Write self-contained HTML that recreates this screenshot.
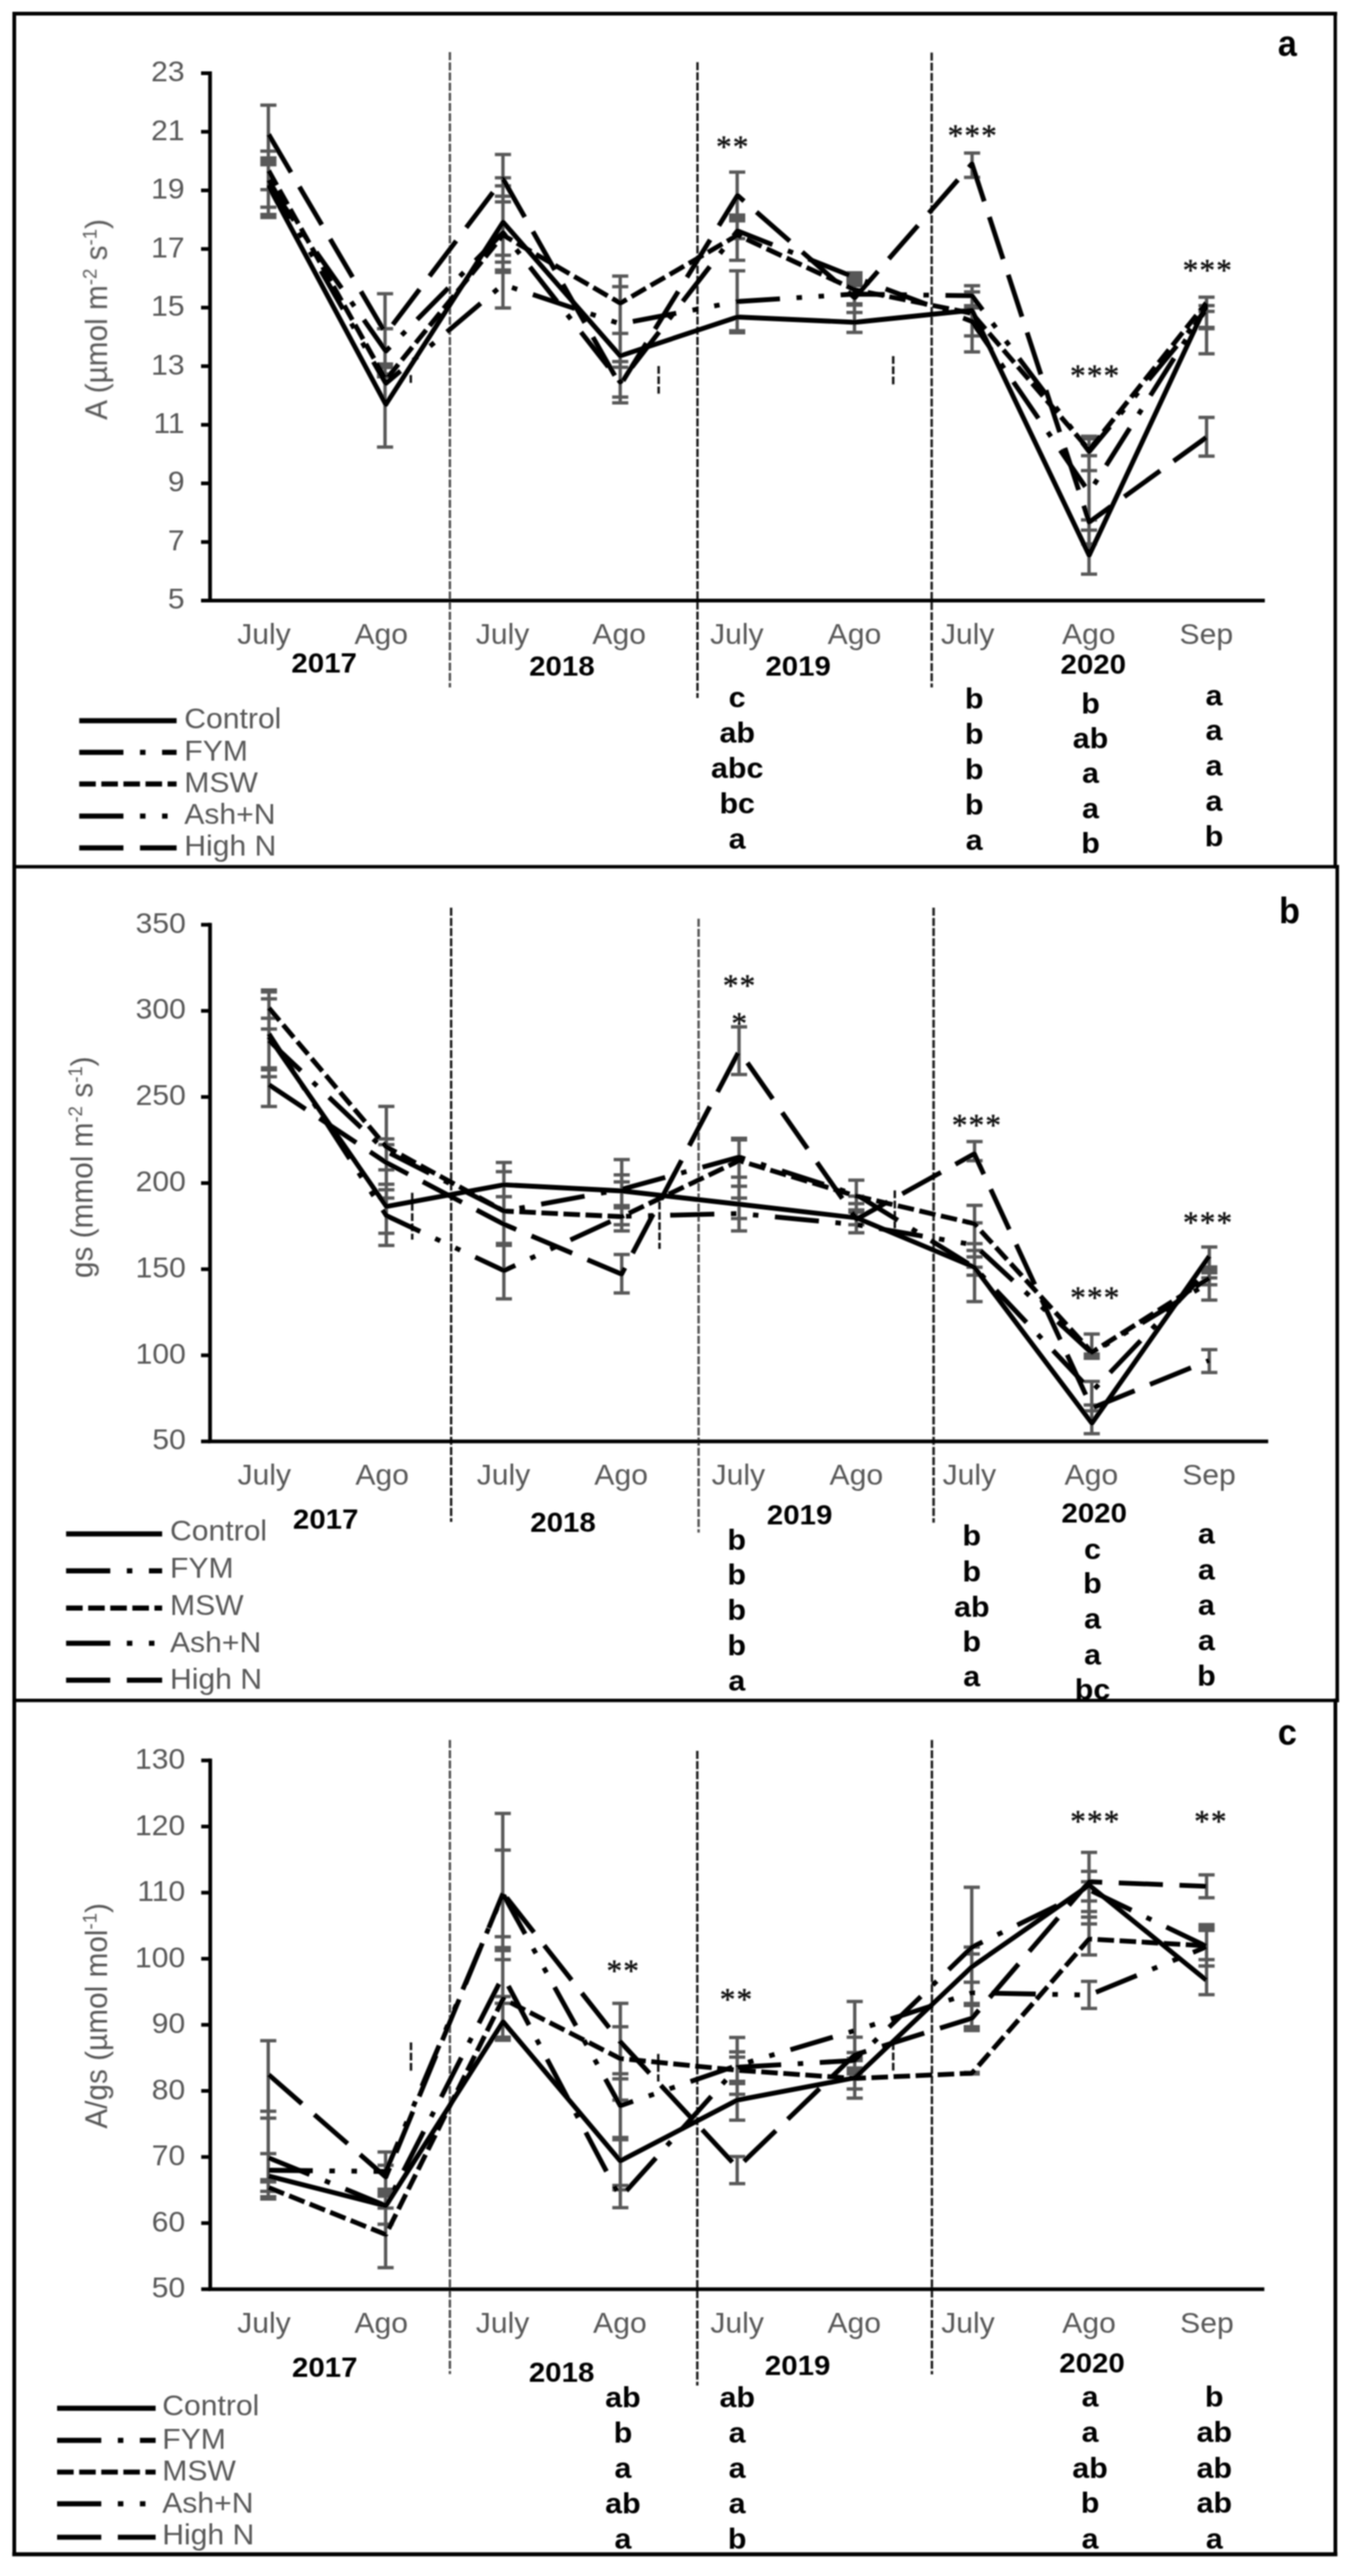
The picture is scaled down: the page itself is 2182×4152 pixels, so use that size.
<!DOCTYPE html>
<html lang="en"><head><meta charset="utf-8"><title>Gas exchange figure</title>
<style>html,body{margin:0;padding:0;background:#fff}svg{display:block}</style></head><body>
<svg width="2182" height="4152" viewBox="0 0 2182 4152">
<rect width="2182" height="4152" fill="#fff"/>
<filter id="soft" filterUnits="userSpaceOnUse" x="0" y="0" width="2182" height="4152"><feGaussianBlur stdDeviation="1.0"/></filter>
<g filter="url(#soft)">
<g>
<line x1="725" y1="84" x2="725" y2="1108" stroke="#555" stroke-width="3.9" stroke-dasharray="13 3.4"/>
<line x1="1124" y1="100.2" x2="1124" y2="1125" stroke="#1c1c1c" stroke-width="3.9" stroke-dasharray="13 3.4"/>
<line x1="1501.4" y1="84.7" x2="1501.4" y2="1108" stroke="#1c1c1c" stroke-width="3.9" stroke-dasharray="13 3.4"/>
<line x1="662" y1="604.6" x2="662" y2="621" stroke="#111" stroke-width="3.9" stroke-dasharray="12.5 4"/>
<line x1="1061.4" y1="590" x2="1061.4" y2="634.5" stroke="#111" stroke-width="3.9" stroke-dasharray="12.5 4"/>
<line x1="1439.4" y1="573.9" x2="1439.4" y2="620" stroke="#111" stroke-width="3.9" stroke-dasharray="12.5 4"/>
<path d="M338.5 115 V968 H2038.3" fill="none" stroke="#000" stroke-width="6" stroke-linecap="butt" stroke-linejoin="miter"/>
<line x1="324" y1="118" x2="338.5" y2="118" stroke="#000" stroke-width="6"/>
<text transform="translate(297.5 131.3) scale(1.055 1)" font-size="46" fill="#595959" text-anchor="end" font-weight="normal" font-family='"Liberation Sans", Arial, sans-serif' >23</text>
<line x1="324" y1="212.4" x2="338.5" y2="212.4" stroke="#000" stroke-width="6"/>
<text transform="translate(297.5 225.7) scale(1.055 1)" font-size="46" fill="#595959" text-anchor="end" font-weight="normal" font-family='"Liberation Sans", Arial, sans-serif' >21</text>
<line x1="324" y1="306.9" x2="338.5" y2="306.9" stroke="#000" stroke-width="6"/>
<text transform="translate(297.5 320.2) scale(1.055 1)" font-size="46" fill="#595959" text-anchor="end" font-weight="normal" font-family='"Liberation Sans", Arial, sans-serif' >19</text>
<line x1="324" y1="401.3" x2="338.5" y2="401.3" stroke="#000" stroke-width="6"/>
<text transform="translate(297.5 414.6) scale(1.055 1)" font-size="46" fill="#595959" text-anchor="end" font-weight="normal" font-family='"Liberation Sans", Arial, sans-serif' >17</text>
<line x1="324" y1="495.8" x2="338.5" y2="495.8" stroke="#000" stroke-width="6"/>
<text transform="translate(297.5 509.1) scale(1.055 1)" font-size="46" fill="#595959" text-anchor="end" font-weight="normal" font-family='"Liberation Sans", Arial, sans-serif' >15</text>
<line x1="324" y1="590.2" x2="338.5" y2="590.2" stroke="#000" stroke-width="6"/>
<text transform="translate(297.5 603.5) scale(1.055 1)" font-size="46" fill="#595959" text-anchor="end" font-weight="normal" font-family='"Liberation Sans", Arial, sans-serif' >13</text>
<line x1="324" y1="684.7" x2="338.5" y2="684.7" stroke="#000" stroke-width="6"/>
<text transform="translate(297.5 698) scale(1.055 1)" font-size="46" fill="#595959" text-anchor="end" font-weight="normal" font-family='"Liberation Sans", Arial, sans-serif' >11</text>
<line x1="324" y1="779.1" x2="338.5" y2="779.1" stroke="#000" stroke-width="6"/>
<text transform="translate(297.5 792.4) scale(1.055 1)" font-size="46" fill="#595959" text-anchor="end" font-weight="normal" font-family='"Liberation Sans", Arial, sans-serif' >9</text>
<line x1="324" y1="873.6" x2="338.5" y2="873.6" stroke="#000" stroke-width="6"/>
<text transform="translate(297.5 886.9) scale(1.055 1)" font-size="46" fill="#595959" text-anchor="end" font-weight="normal" font-family='"Liberation Sans", Arial, sans-serif' >7</text>
<line x1="324" y1="968" x2="338.5" y2="968" stroke="#000" stroke-width="6"/>
<text transform="translate(297.5 981.3) scale(1.055 1)" font-size="46" fill="#595959" text-anchor="end" font-weight="normal" font-family='"Liberation Sans", Arial, sans-serif' >5</text>
<text transform="translate(173 676.7) scale(1.055 1) rotate(-90)" font-size="48" fill="#595959" font-family='"Liberation Sans", Arial, sans-serif'>A (µmol m<tspan dy="-17" font-size="30">-2</tspan><tspan dy="17"> s</tspan><tspan dy="-17" font-size="30">-1</tspan><tspan dy="17">)</tspan></text>
<text transform="translate(425.4 1038) scale(1.055 1)" font-size="46" fill="#595959" text-anchor="middle" font-weight="normal" font-family='"Liberation Sans", Arial, sans-serif' >July</text>
<text transform="translate(614.4 1038) scale(1.055 1)" font-size="46" fill="#595959" text-anchor="middle" font-weight="normal" font-family='"Liberation Sans", Arial, sans-serif' >Ago</text>
<text transform="translate(810 1038) scale(1.055 1)" font-size="46" fill="#595959" text-anchor="middle" font-weight="normal" font-family='"Liberation Sans", Arial, sans-serif' >July</text>
<text transform="translate(997.7 1038) scale(1.055 1)" font-size="46" fill="#595959" text-anchor="middle" font-weight="normal" font-family='"Liberation Sans", Arial, sans-serif' >Ago</text>
<text transform="translate(1187.4 1038) scale(1.055 1)" font-size="46" fill="#595959" text-anchor="middle" font-weight="normal" font-family='"Liberation Sans", Arial, sans-serif' >July</text>
<text transform="translate(1377 1038) scale(1.055 1)" font-size="46" fill="#595959" text-anchor="middle" font-weight="normal" font-family='"Liberation Sans", Arial, sans-serif' >Ago</text>
<text transform="translate(1559.4 1038) scale(1.055 1)" font-size="46" fill="#595959" text-anchor="middle" font-weight="normal" font-family='"Liberation Sans", Arial, sans-serif' >July</text>
<text transform="translate(1754.6 1038) scale(1.055 1)" font-size="46" fill="#595959" text-anchor="middle" font-weight="normal" font-family='"Liberation Sans", Arial, sans-serif' >Ago</text>
<text transform="translate(1944 1038) scale(1.055 1)" font-size="46" fill="#595959" text-anchor="middle" font-weight="normal" font-family='"Liberation Sans", Arial, sans-serif' >Sep</text>
<text transform="translate(522.4 1083.6) scale(1.055 1)" font-size="45" fill="#000" text-anchor="middle" font-weight="bold" font-family='"Liberation Sans", Arial, sans-serif' >2017</text>
<text transform="translate(905.5 1088.5) scale(1.055 1)" font-size="45" fill="#000" text-anchor="middle" font-weight="bold" font-family='"Liberation Sans", Arial, sans-serif' >2018</text>
<text transform="translate(1286.2 1088.7) scale(1.055 1)" font-size="45" fill="#000" text-anchor="middle" font-weight="bold" font-family='"Liberation Sans", Arial, sans-serif' >2019</text>
<text transform="translate(1761.8 1086) scale(1.055 1)" font-size="45" fill="#000" text-anchor="middle" font-weight="bold" font-family='"Liberation Sans", Arial, sans-serif' >2020</text>
<line x1="432.5" y1="169.5" x2="432.5" y2="350.5" stroke="#595959" stroke-width="5.4"/>
<rect x="419.5" y="166.8" width="26" height="5.4" fill="#595959"/>
<rect x="419.5" y="240.9" width="26" height="5.4" fill="#595959"/>
<rect x="419.5" y="251.9" width="26" height="16.3" fill="#595959"/>
<rect x="419.5" y="303" width="26" height="5.4" fill="#595959"/>
<rect x="419.5" y="331.3" width="26" height="5.4" fill="#595959"/>
<rect x="419.5" y="343" width="26" height="10.3" fill="#595959"/>
<line x1="620.5" y1="473.4" x2="620.5" y2="720.6" stroke="#595959" stroke-width="5.4"/>
<rect x="607.5" y="470.7" width="26" height="5.4" fill="#595959"/>
<rect x="607.5" y="527.1" width="26" height="5.4" fill="#595959"/>
<rect x="607.5" y="584" width="26" height="11" fill="#595959"/>
<rect x="607.5" y="600" width="26" height="10" fill="#595959"/>
<rect x="607.5" y="717.9" width="26" height="5.4" fill="#595959"/>
<line x1="810.5" y1="249" x2="810.5" y2="496.4" stroke="#595959" stroke-width="5.4"/>
<rect x="797.5" y="246.3" width="26" height="5.4" fill="#595959"/>
<rect x="797.5" y="283.9" width="26" height="5.4" fill="#595959"/>
<rect x="797.5" y="296.9" width="26" height="5.4" fill="#595959"/>
<rect x="797.5" y="313.5" width="26" height="5.4" fill="#595959"/>
<rect x="797.5" y="322.7" width="26" height="5.4" fill="#595959"/>
<rect x="797.5" y="408.7" width="26" height="5.4" fill="#595959"/>
<rect x="797.5" y="419.8" width="26" height="5.4" fill="#595959"/>
<rect x="797.5" y="432.5" width="26" height="9.2" fill="#595959"/>
<rect x="797.5" y="493.7" width="26" height="5.4" fill="#595959"/>
<line x1="999.5" y1="445" x2="999.5" y2="649.3" stroke="#595959" stroke-width="5.4"/>
<rect x="986.5" y="442.3" width="26" height="5.4" fill="#595959"/>
<rect x="986.5" y="459.3" width="26" height="5.4" fill="#595959"/>
<rect x="986.5" y="534.7" width="26" height="5.4" fill="#595959"/>
<rect x="986.5" y="580.1" width="26" height="5.4" fill="#595959"/>
<rect x="986.5" y="589.3" width="26" height="5.4" fill="#595959"/>
<rect x="986.5" y="637.3" width="26" height="5.4" fill="#595959"/>
<rect x="986.5" y="646.6" width="26" height="5.4" fill="#595959"/>
<line x1="1188" y1="277.4" x2="1188" y2="419.6" stroke="#595959" stroke-width="5.4"/>
<line x1="1188" y1="436.5" x2="1188" y2="534.8" stroke="#595959" stroke-width="5.4"/>
<rect x="1175" y="274.7" width="26" height="5.4" fill="#595959"/>
<rect x="1175" y="343.9" width="26" height="14.7" fill="#595959"/>
<rect x="1175" y="381.8" width="26" height="5.4" fill="#595959"/>
<rect x="1175" y="416.9" width="26" height="5.4" fill="#595959"/>
<rect x="1175" y="433.8" width="26" height="5.4" fill="#595959"/>
<rect x="1175" y="530.5" width="26" height="8.5" fill="#595959"/>
<line x1="1377" y1="437" x2="1377" y2="535.8" stroke="#595959" stroke-width="5.4"/>
<rect x="1364" y="437" width="26" height="26" fill="#595959"/>
<rect x="1364" y="487" width="26" height="7.5" fill="#595959"/>
<rect x="1364" y="501" width="26" height="5.4" fill="#595959"/>
<rect x="1364" y="533.1" width="26" height="5.4" fill="#595959"/>
<line x1="1566.5" y1="246.7" x2="1566.5" y2="285.9" stroke="#595959" stroke-width="5.4"/>
<line x1="1566.5" y1="460.5" x2="1566.5" y2="567.2" stroke="#595959" stroke-width="5.4"/>
<rect x="1553.5" y="244" width="26" height="5.4" fill="#595959"/>
<rect x="1553.5" y="283.2" width="26" height="5.4" fill="#595959"/>
<rect x="1553.5" y="457.8" width="26" height="5.4" fill="#595959"/>
<rect x="1553.5" y="467.8" width="26" height="5.4" fill="#595959"/>
<rect x="1553.5" y="490" width="26" height="9" fill="#595959"/>
<rect x="1553.5" y="538.7" width="26" height="5.4" fill="#595959"/>
<rect x="1553.5" y="564.5" width="26" height="5.4" fill="#595959"/>
<line x1="1755" y1="705" x2="1755" y2="925.4" stroke="#595959" stroke-width="5.4"/>
<rect x="1742" y="700.5" width="26" height="9.5" fill="#595959"/>
<rect x="1742" y="731.8" width="26" height="5.4" fill="#595959"/>
<rect x="1742" y="755.8" width="26" height="5.4" fill="#595959"/>
<rect x="1742" y="835.3" width="26" height="5.4" fill="#595959"/>
<rect x="1742" y="851.8" width="26" height="5.4" fill="#595959"/>
<rect x="1742" y="873.9" width="26" height="5.4" fill="#595959"/>
<rect x="1742" y="922.7" width="26" height="5.4" fill="#595959"/>
<line x1="1944.4" y1="479" x2="1944.4" y2="570.2" stroke="#595959" stroke-width="5.4"/>
<line x1="1944.4" y1="672.8" x2="1944.4" y2="735.2" stroke="#595959" stroke-width="5.4"/>
<rect x="1931.4" y="476.3" width="26" height="5.4" fill="#595959"/>
<rect x="1931.4" y="489.9" width="26" height="5.4" fill="#595959"/>
<rect x="1931.4" y="499.2" width="26" height="5.4" fill="#595959"/>
<rect x="1931.4" y="525" width="26" height="7.5" fill="#595959"/>
<rect x="1931.4" y="567.5" width="26" height="5.4" fill="#595959"/>
<rect x="1931.4" y="670.1" width="26" height="5.4" fill="#595959"/>
<rect x="1931.4" y="732.5" width="26" height="5.4" fill="#595959"/>
<polyline points="432.9,275 621.8,612 810.7,379 999.6,488.6 1188.5,379 1377.4,467 1566.3,505 1755.2,725 1944.1,488" fill="none" stroke="#000" stroke-width="7.8" stroke-linecap="butt" stroke-linejoin="round" stroke-dasharray="26.7 8.9" stroke-dashoffset="0"/>
<polyline points="432.9,297 621.8,566 810.7,375 999.6,616 1188.5,372 1377.4,447 1566.3,518 1755.2,793.6 1944.1,495" fill="none" stroke="#000" stroke-width="7.8" stroke-linecap="butt" stroke-linejoin="round" stroke-dasharray="71.2 26.7 8.9 26.7" stroke-dashoffset="0"/>
<polyline points="432.9,290 621.8,618 810.7,458.6 999.6,522 1188.5,486 1377.4,474 1566.3,476.7 1755.2,728 1944.1,500" fill="none" stroke="#000" stroke-width="7.8" stroke-linecap="butt" stroke-linejoin="round" stroke-dasharray="71.2 26.7 8.9 26.7 8.9 26.7" stroke-dashoffset="0"/>
<polyline points="432.9,216.5 621.8,538 810.7,288.5 999.6,621 1188.5,315 1377.4,480 1566.3,264 1755.2,841.6 1944.1,705" fill="none" stroke="#000" stroke-width="7.8" stroke-linecap="butt" stroke-linejoin="round" stroke-dasharray="71.2 26.7" stroke-dashoffset="0"/>
<polyline points="432.9,300 621.8,652 810.7,358 999.6,573.6 1188.5,511 1377.4,519.5 1566.3,500 1755.2,895 1944.1,491" fill="none" stroke="#000" stroke-width="7.8" stroke-linecap="butt" stroke-linejoin="round"/>
<text transform="translate(1166.5 253.4) scale(1.0 1)" font-size="50" fill="#111" text-anchor="middle" font-weight="normal" font-family='"Liberation Serif", "DejaVu Serif", serif' stroke="#111" stroke-width="0.7">*</text>
<text transform="translate(1193.5 253.4) scale(1.0 1)" font-size="50" fill="#111" text-anchor="middle" font-weight="normal" font-family='"Liberation Serif", "DejaVu Serif", serif' stroke="#111" stroke-width="0.7">*</text>
<text transform="translate(1539.7 235) scale(1.0 1)" font-size="50" fill="#111" text-anchor="middle" font-weight="normal" font-family='"Liberation Serif", "DejaVu Serif", serif' stroke="#111" stroke-width="0.7">*</text>
<text transform="translate(1566.7 235) scale(1.0 1)" font-size="50" fill="#111" text-anchor="middle" font-weight="normal" font-family='"Liberation Serif", "DejaVu Serif", serif' stroke="#111" stroke-width="0.7">*</text>
<text transform="translate(1593.7 235) scale(1.0 1)" font-size="50" fill="#111" text-anchor="middle" font-weight="normal" font-family='"Liberation Serif", "DejaVu Serif", serif' stroke="#111" stroke-width="0.7">*</text>
<text transform="translate(1737 621.9) scale(1.0 1)" font-size="50" fill="#111" text-anchor="middle" font-weight="normal" font-family='"Liberation Serif", "DejaVu Serif", serif' stroke="#111" stroke-width="0.7">*</text>
<text transform="translate(1764 621.9) scale(1.0 1)" font-size="50" fill="#111" text-anchor="middle" font-weight="normal" font-family='"Liberation Serif", "DejaVu Serif", serif' stroke="#111" stroke-width="0.7">*</text>
<text transform="translate(1791 621.9) scale(1.0 1)" font-size="50" fill="#111" text-anchor="middle" font-weight="normal" font-family='"Liberation Serif", "DejaVu Serif", serif' stroke="#111" stroke-width="0.7">*</text>
<text transform="translate(1918.6 452) scale(1.0 1)" font-size="50" fill="#111" text-anchor="middle" font-weight="normal" font-family='"Liberation Serif", "DejaVu Serif", serif' stroke="#111" stroke-width="0.7">*</text>
<text transform="translate(1945.6 452) scale(1.0 1)" font-size="50" fill="#111" text-anchor="middle" font-weight="normal" font-family='"Liberation Serif", "DejaVu Serif", serif' stroke="#111" stroke-width="0.7">*</text>
<text transform="translate(1972.6 452) scale(1.0 1)" font-size="50" fill="#111" text-anchor="middle" font-weight="normal" font-family='"Liberation Serif", "DejaVu Serif", serif' stroke="#111" stroke-width="0.7">*</text>
<line x1="127.7" y1="1161.7" x2="284.6" y2="1161.7" stroke="#000" stroke-width="8.2" stroke-linecap="butt"/>
<text transform="translate(297 1173.9) scale(1.055 1)" font-size="46" fill="#595959" text-anchor="start" font-weight="normal" font-family='"Liberation Sans", Arial, sans-serif' >Control</text>
<line x1="127.7" y1="1212.6" x2="284.6" y2="1212.6" stroke="#000" stroke-width="8.2" stroke-linecap="butt" stroke-dasharray="71.2 26.7 8.9 26.7"/>
<text transform="translate(297 1225.6) scale(1.055 1)" font-size="46" fill="#595959" text-anchor="start" font-weight="normal" font-family='"Liberation Sans", Arial, sans-serif' >FYM</text>
<line x1="127.7" y1="1263.6" x2="284.6" y2="1263.6" stroke="#000" stroke-width="8.2" stroke-linecap="butt" stroke-dasharray="26.7 8.9"/>
<text transform="translate(297 1276.5) scale(1.055 1)" font-size="46" fill="#595959" text-anchor="start" font-weight="normal" font-family='"Liberation Sans", Arial, sans-serif' >MSW</text>
<line x1="127.7" y1="1315.3" x2="284.6" y2="1315.3" stroke="#000" stroke-width="8.2" stroke-linecap="butt" stroke-dasharray="71.2 26.7 8.9 26.7 8.9 26.7"/>
<text transform="translate(297 1327.8) scale(1.055 1)" font-size="46" fill="#595959" text-anchor="start" font-weight="normal" font-family='"Liberation Sans", Arial, sans-serif' >Ash+N</text>
<line x1="127.7" y1="1366.6" x2="284.6" y2="1366.6" stroke="#000" stroke-width="8.2" stroke-linecap="butt" stroke-dasharray="71.2 26.7"/>
<text transform="translate(297 1378.8) scale(1.055 1)" font-size="46" fill="#595959" text-anchor="start" font-weight="normal" font-family='"Liberation Sans", Arial, sans-serif' >High N</text>
<text transform="translate(1188 1140.3) scale(1.055 1)" font-size="46.5" fill="#000" text-anchor="middle" font-weight="bold" font-family='"Liberation Sans", Arial, sans-serif' >c</text>
<text transform="translate(1188 1196.7) scale(1.055 1)" font-size="46.5" fill="#000" text-anchor="middle" font-weight="bold" font-family='"Liberation Sans", Arial, sans-serif' >ab</text>
<text transform="translate(1188 1253.5) scale(1.055 1)" font-size="46.5" fill="#000" text-anchor="middle" font-weight="bold" font-family='"Liberation Sans", Arial, sans-serif' >abc</text>
<text transform="translate(1188 1310.5) scale(1.055 1)" font-size="46.5" fill="#000" text-anchor="middle" font-weight="bold" font-family='"Liberation Sans", Arial, sans-serif' >bc</text>
<text transform="translate(1188 1367.8) scale(1.055 1)" font-size="46.5" fill="#000" text-anchor="middle" font-weight="bold" font-family='"Liberation Sans", Arial, sans-serif' >a</text>
<text transform="translate(1570 1142) scale(1.055 1)" font-size="46.5" fill="#000" text-anchor="middle" font-weight="bold" font-family='"Liberation Sans", Arial, sans-serif' >b</text>
<text transform="translate(1570 1198.9) scale(1.055 1)" font-size="46.5" fill="#000" text-anchor="middle" font-weight="bold" font-family='"Liberation Sans", Arial, sans-serif' >b</text>
<text transform="translate(1570 1255.7) scale(1.055 1)" font-size="46.5" fill="#000" text-anchor="middle" font-weight="bold" font-family='"Liberation Sans", Arial, sans-serif' >b</text>
<text transform="translate(1570 1312.6) scale(1.055 1)" font-size="46.5" fill="#000" text-anchor="middle" font-weight="bold" font-family='"Liberation Sans", Arial, sans-serif' >b</text>
<text transform="translate(1570 1369.5) scale(1.055 1)" font-size="46.5" fill="#000" text-anchor="middle" font-weight="bold" font-family='"Liberation Sans", Arial, sans-serif' >a</text>
<text transform="translate(1757.4 1149.7) scale(1.055 1)" font-size="46.5" fill="#000" text-anchor="middle" font-weight="bold" font-family='"Liberation Sans", Arial, sans-serif' >b</text>
<text transform="translate(1757.4 1206) scale(1.055 1)" font-size="46.5" fill="#000" text-anchor="middle" font-weight="bold" font-family='"Liberation Sans", Arial, sans-serif' >ab</text>
<text transform="translate(1757.4 1262) scale(1.055 1)" font-size="46.5" fill="#000" text-anchor="middle" font-weight="bold" font-family='"Liberation Sans", Arial, sans-serif' >a</text>
<text transform="translate(1757.4 1318.8) scale(1.055 1)" font-size="46.5" fill="#000" text-anchor="middle" font-weight="bold" font-family='"Liberation Sans", Arial, sans-serif' >a</text>
<text transform="translate(1757.4 1374.7) scale(1.055 1)" font-size="46.5" fill="#000" text-anchor="middle" font-weight="bold" font-family='"Liberation Sans", Arial, sans-serif' >b</text>
<text transform="translate(1956.5 1136.8) scale(1.055 1)" font-size="46.5" fill="#000" text-anchor="middle" font-weight="bold" font-family='"Liberation Sans", Arial, sans-serif' >a</text>
<text transform="translate(1956.5 1193.2) scale(1.055 1)" font-size="46.5" fill="#000" text-anchor="middle" font-weight="bold" font-family='"Liberation Sans", Arial, sans-serif' >a</text>
<text transform="translate(1956.5 1250) scale(1.055 1)" font-size="46.5" fill="#000" text-anchor="middle" font-weight="bold" font-family='"Liberation Sans", Arial, sans-serif' >a</text>
<text transform="translate(1956.5 1307) scale(1.055 1)" font-size="46.5" fill="#000" text-anchor="middle" font-weight="bold" font-family='"Liberation Sans", Arial, sans-serif' >a</text>
<text transform="translate(1956.5 1364.3) scale(1.055 1)" font-size="46.5" fill="#000" text-anchor="middle" font-weight="bold" font-family='"Liberation Sans", Arial, sans-serif' >b</text>
<text transform="translate(2074.7 89.5) scale(0.92 1)" font-size="60" fill="#000" text-anchor="middle" font-weight="bold" font-family='"Liberation Sans", Arial, sans-serif' >a</text>
</g>
<clipPath id="cpb"><rect x="0" y="1397" width="2182" height="1343.7"/></clipPath>
<g clip-path="url(#cpb)">
<line x1="727" y1="1463" x2="727" y2="2453" stroke="#1c1c1c" stroke-width="3.9" stroke-dasharray="13 3.4"/>
<line x1="1125.8" y1="1480.7" x2="1125.8" y2="2470.3" stroke="#555" stroke-width="3.9" stroke-dasharray="13 3.4"/>
<line x1="1504.5" y1="1463" x2="1504.5" y2="2454.3" stroke="#1c1c1c" stroke-width="3.9" stroke-dasharray="13 3.4"/>
<line x1="664.3" y1="1922.5" x2="664.3" y2="1998" stroke="#111" stroke-width="3.9" stroke-dasharray="12.5 4"/>
<line x1="1062.8" y1="1937" x2="1062.8" y2="2013" stroke="#111" stroke-width="3.9" stroke-dasharray="12.5 4"/>
<line x1="1442" y1="1918.8" x2="1442" y2="1979.7" stroke="#111" stroke-width="3.9" stroke-dasharray="12.5 4"/>
<path d="M338.5 1487.5 V2323.3 H2043.7" fill="none" stroke="#000" stroke-width="6" stroke-linecap="butt" stroke-linejoin="miter"/>
<line x1="324" y1="1490.5" x2="338.5" y2="1490.5" stroke="#000" stroke-width="6"/>
<text transform="translate(299.5 1503.5) scale(1.055 1)" font-size="46" fill="#595959" text-anchor="end" font-weight="normal" font-family='"Liberation Sans", Arial, sans-serif' >350</text>
<line x1="324" y1="1629.3" x2="338.5" y2="1629.3" stroke="#000" stroke-width="6"/>
<text transform="translate(299.5 1642.3) scale(1.055 1)" font-size="46" fill="#595959" text-anchor="end" font-weight="normal" font-family='"Liberation Sans", Arial, sans-serif' >300</text>
<line x1="324" y1="1768.1" x2="338.5" y2="1768.1" stroke="#000" stroke-width="6"/>
<text transform="translate(299.5 1781.1) scale(1.055 1)" font-size="46" fill="#595959" text-anchor="end" font-weight="normal" font-family='"Liberation Sans", Arial, sans-serif' >250</text>
<line x1="324" y1="1906.9" x2="338.5" y2="1906.9" stroke="#000" stroke-width="6"/>
<text transform="translate(299.5 1919.9) scale(1.055 1)" font-size="46" fill="#595959" text-anchor="end" font-weight="normal" font-family='"Liberation Sans", Arial, sans-serif' >200</text>
<line x1="324" y1="2045.7" x2="338.5" y2="2045.7" stroke="#000" stroke-width="6"/>
<text transform="translate(299.5 2058.7) scale(1.055 1)" font-size="46" fill="#595959" text-anchor="end" font-weight="normal" font-family='"Liberation Sans", Arial, sans-serif' >150</text>
<line x1="324" y1="2184.5" x2="338.5" y2="2184.5" stroke="#000" stroke-width="6"/>
<text transform="translate(299.5 2197.5) scale(1.055 1)" font-size="46" fill="#595959" text-anchor="end" font-weight="normal" font-family='"Liberation Sans", Arial, sans-serif' >100</text>
<line x1="324" y1="2323.3" x2="338.5" y2="2323.3" stroke="#000" stroke-width="6"/>
<text transform="translate(299.5 2336.3) scale(1.055 1)" font-size="46" fill="#595959" text-anchor="end" font-weight="normal" font-family='"Liberation Sans", Arial, sans-serif' >50</text>
<text transform="translate(149.7 2060) scale(1.055 1) rotate(-90)" font-size="48" fill="#595959" font-family='"Liberation Sans", Arial, sans-serif'>gs (mmol m<tspan dy="-17" font-size="30">-2</tspan><tspan dy="17"> s</tspan><tspan dy="-17" font-size="30">-1</tspan><tspan dy="17">)</tspan></text>
<text transform="translate(426 2393.3) scale(1.055 1)" font-size="46" fill="#595959" text-anchor="middle" font-weight="normal" font-family='"Liberation Sans", Arial, sans-serif' >July</text>
<text transform="translate(615.8 2393.3) scale(1.055 1)" font-size="46" fill="#595959" text-anchor="middle" font-weight="normal" font-family='"Liberation Sans", Arial, sans-serif' >Ago</text>
<text transform="translate(811.4 2393.3) scale(1.055 1)" font-size="46" fill="#595959" text-anchor="middle" font-weight="normal" font-family='"Liberation Sans", Arial, sans-serif' >July</text>
<text transform="translate(1001 2393.3) scale(1.055 1)" font-size="46" fill="#595959" text-anchor="middle" font-weight="normal" font-family='"Liberation Sans", Arial, sans-serif' >Ago</text>
<text transform="translate(1190 2393.3) scale(1.055 1)" font-size="46" fill="#595959" text-anchor="middle" font-weight="normal" font-family='"Liberation Sans", Arial, sans-serif' >July</text>
<text transform="translate(1380 2393.3) scale(1.055 1)" font-size="46" fill="#595959" text-anchor="middle" font-weight="normal" font-family='"Liberation Sans", Arial, sans-serif' >Ago</text>
<text transform="translate(1562.2 2393.3) scale(1.055 1)" font-size="46" fill="#595959" text-anchor="middle" font-weight="normal" font-family='"Liberation Sans", Arial, sans-serif' >July</text>
<text transform="translate(1758.7 2393.3) scale(1.055 1)" font-size="46" fill="#595959" text-anchor="middle" font-weight="normal" font-family='"Liberation Sans", Arial, sans-serif' >Ago</text>
<text transform="translate(1948.3 2393.3) scale(1.055 1)" font-size="46" fill="#595959" text-anchor="middle" font-weight="normal" font-family='"Liberation Sans", Arial, sans-serif' >Sep</text>
<text transform="translate(524.8 2463.6) scale(1.055 1)" font-size="45" fill="#000" text-anchor="middle" font-weight="bold" font-family='"Liberation Sans", Arial, sans-serif' >2017</text>
<text transform="translate(907.3 2468.7) scale(1.055 1)" font-size="45" fill="#000" text-anchor="middle" font-weight="bold" font-family='"Liberation Sans", Arial, sans-serif' >2018</text>
<text transform="translate(1288.6 2457.4) scale(1.055 1)" font-size="45" fill="#000" text-anchor="middle" font-weight="bold" font-family='"Liberation Sans", Arial, sans-serif' >2019</text>
<text transform="translate(1763.3 2454.3) scale(1.055 1)" font-size="45" fill="#000" text-anchor="middle" font-weight="bold" font-family='"Liberation Sans", Arial, sans-serif' >2020</text>
<line x1="433.4" y1="1595" x2="433.4" y2="1783.4" stroke="#595959" stroke-width="5.4"/>
<rect x="420.4" y="1593" width="26" height="8.5" fill="#595959"/>
<rect x="420.4" y="1607.2" width="26" height="5.4" fill="#595959"/>
<rect x="420.4" y="1638.5" width="26" height="5.4" fill="#595959"/>
<rect x="420.4" y="1655.9" width="26" height="5.4" fill="#595959"/>
<rect x="420.4" y="1718.5" width="26" height="8.5" fill="#595959"/>
<rect x="420.4" y="1732.7" width="26" height="5.4" fill="#595959"/>
<rect x="420.4" y="1780.7" width="26" height="5.4" fill="#595959"/>
<line x1="622.6" y1="1783.3" x2="622.6" y2="2007.4" stroke="#595959" stroke-width="5.4"/>
<rect x="609.6" y="1780.6" width="26" height="5.4" fill="#595959"/>
<rect x="609.6" y="1833" width="26" height="5.4" fill="#595959"/>
<rect x="609.6" y="1842.3" width="26" height="5.4" fill="#595959"/>
<rect x="609.6" y="1882.9" width="26" height="5.4" fill="#595959"/>
<rect x="609.6" y="1906.1" width="26" height="5.4" fill="#595959"/>
<rect x="609.6" y="1915" width="26" height="5.4" fill="#595959"/>
<rect x="609.6" y="1928.3" width="26" height="5.4" fill="#595959"/>
<rect x="609.6" y="1985.1" width="26" height="5.4" fill="#595959"/>
<rect x="609.6" y="2004.7" width="26" height="5.4" fill="#595959"/>
<line x1="812" y1="1873.7" x2="812" y2="2093.5" stroke="#595959" stroke-width="5.4"/>
<rect x="799" y="1871" width="26" height="5.4" fill="#595959"/>
<rect x="799" y="1885.8" width="26" height="5.4" fill="#595959"/>
<rect x="799" y="1926.1" width="26" height="5.4" fill="#595959"/>
<rect x="799" y="2001.5" width="26" height="8.5" fill="#595959"/>
<rect x="799" y="2090.8" width="26" height="5.4" fill="#595959"/>
<line x1="1001.9" y1="1869" x2="1001.9" y2="1984" stroke="#595959" stroke-width="5.4"/>
<line x1="1001.9" y1="2022" x2="1001.9" y2="2084" stroke="#595959" stroke-width="5.4"/>
<rect x="988.9" y="1866.3" width="26" height="5.4" fill="#595959"/>
<rect x="988.9" y="1891" width="26" height="5.4" fill="#595959"/>
<rect x="988.9" y="1902.3" width="26" height="5.4" fill="#595959"/>
<rect x="988.9" y="1940.5" width="26" height="9" fill="#595959"/>
<rect x="988.9" y="1971.3" width="26" height="5.4" fill="#595959"/>
<rect x="988.9" y="1981.3" width="26" height="5.4" fill="#595959"/>
<rect x="988.9" y="2019.3" width="26" height="5.4" fill="#595959"/>
<rect x="988.9" y="2081.3" width="26" height="5.4" fill="#595959"/>
<line x1="1191" y1="1655.1" x2="1191" y2="1731.9" stroke="#595959" stroke-width="5.4"/>
<line x1="1191" y1="1835.7" x2="1191" y2="1984" stroke="#595959" stroke-width="5.4"/>
<rect x="1178" y="1652.4" width="26" height="5.4" fill="#595959"/>
<rect x="1178" y="1729.2" width="26" height="5.4" fill="#595959"/>
<rect x="1178" y="1832" width="26" height="8" fill="#595959"/>
<rect x="1178" y="1894.7" width="26" height="5.4" fill="#595959"/>
<rect x="1178" y="1909.3" width="26" height="5.4" fill="#595959"/>
<rect x="1178" y="1928.3" width="26" height="5.4" fill="#595959"/>
<rect x="1178" y="1961.3" width="26" height="5.4" fill="#595959"/>
<rect x="1178" y="1981.3" width="26" height="5.4" fill="#595959"/>
<line x1="1380" y1="1902.2" x2="1380" y2="1987" stroke="#595959" stroke-width="5.4"/>
<rect x="1367" y="1899.5" width="26" height="5.4" fill="#595959"/>
<rect x="1367" y="1925.3" width="26" height="5.4" fill="#595959"/>
<rect x="1367" y="1937.3" width="26" height="5.4" fill="#595959"/>
<rect x="1367" y="1947.5" width="26" height="9" fill="#595959"/>
<rect x="1367" y="1971.3" width="26" height="5.4" fill="#595959"/>
<rect x="1367" y="1984.3" width="26" height="5.4" fill="#595959"/>
<line x1="1570.5" y1="1840" x2="1570.5" y2="1870.8" stroke="#595959" stroke-width="5.4"/>
<line x1="1570.5" y1="1942.8" x2="1570.5" y2="2097.9" stroke="#595959" stroke-width="5.4"/>
<rect x="1557.5" y="1837.3" width="26" height="5.4" fill="#595959"/>
<rect x="1557.5" y="1868.1" width="26" height="5.4" fill="#595959"/>
<rect x="1557.5" y="1940.1" width="26" height="5.4" fill="#595959"/>
<rect x="1557.5" y="1968.3" width="26" height="5.4" fill="#595959"/>
<rect x="1557.5" y="2001.8" width="26" height="5.4" fill="#595959"/>
<rect x="1557.5" y="2012.8" width="26" height="5.4" fill="#595959"/>
<rect x="1557.5" y="2023.2" width="26" height="5.4" fill="#595959"/>
<rect x="1557.5" y="2039.8" width="26" height="5.4" fill="#595959"/>
<rect x="1557.5" y="2052.7" width="26" height="5.4" fill="#595959"/>
<rect x="1557.5" y="2095.2" width="26" height="5.4" fill="#595959"/>
<line x1="1759.4" y1="2150.2" x2="1759.4" y2="2189" stroke="#595959" stroke-width="5.4"/>
<line x1="1759.4" y1="2226.6" x2="1759.4" y2="2310.8" stroke="#595959" stroke-width="5.4"/>
<rect x="1746.4" y="2147.5" width="26" height="5.4" fill="#595959"/>
<rect x="1746.4" y="2179.7" width="26" height="12.3" fill="#595959"/>
<rect x="1746.4" y="2223.9" width="26" height="5.4" fill="#595959"/>
<rect x="1746.4" y="2261.9" width="26" height="5.4" fill="#595959"/>
<rect x="1746.4" y="2271.3" width="26" height="5.4" fill="#595959"/>
<rect x="1746.4" y="2308.1" width="26" height="5.4" fill="#595959"/>
<line x1="1948.8" y1="2009.9" x2="1948.8" y2="2095.5" stroke="#595959" stroke-width="5.4"/>
<line x1="1948.8" y1="2175.3" x2="1948.8" y2="2212.2" stroke="#595959" stroke-width="5.4"/>
<rect x="1935.8" y="2007.2" width="26" height="5.4" fill="#595959"/>
<rect x="1935.8" y="2039.4" width="26" height="14.8" fill="#595959"/>
<rect x="1935.8" y="2057" width="26" height="5.4" fill="#595959"/>
<rect x="1935.8" y="2068.1" width="26" height="5.4" fill="#595959"/>
<rect x="1935.8" y="2092.8" width="26" height="5.4" fill="#595959"/>
<rect x="1935.8" y="2172.6" width="26" height="5.4" fill="#595959"/>
<rect x="1935.8" y="2209.5" width="26" height="5.4" fill="#595959"/>
<polyline points="433.2,1624.6 622.7,1848.6 812.2,1952 1001.7,1961 1191.2,1870.8 1380.6,1928 1570.1,1972.3 1759.6,2179.7 1949,2060" fill="none" stroke="#000" stroke-width="7.8" stroke-linecap="butt" stroke-linejoin="round" stroke-dasharray="26.7 8.9" stroke-dashoffset="0"/>
<polyline points="433.2,1677 622.7,1856 812.2,1952 1001.7,1917 1191.2,1865 1380.6,1926 1570.1,2042.5 1759.6,2243 1949,2045" fill="none" stroke="#000" stroke-width="7.8" stroke-linecap="butt" stroke-linejoin="round" stroke-dasharray="71.2 26.7 8.9 26.7" stroke-dashoffset="0"/>
<polyline points="433.2,1666 622.7,1959.4 812.2,2048 1001.7,1960.5 1191.2,1956 1380.6,1974 1570.1,2006.7 1759.6,2181 1949,2067" fill="none" stroke="#000" stroke-width="7.8" stroke-linecap="butt" stroke-linejoin="round" stroke-dasharray="71.2 26.7 8.9 26.7 8.9 26.7" stroke-dashoffset="0"/>
<polyline points="433.2,1748.3 622.7,1874 812.2,1973.4 1001.7,2053.6 1191.2,1693.9 1380.6,1965 1570.1,1859.7 1759.6,2269.5 1949,2192.6" fill="none" stroke="#000" stroke-width="7.8" stroke-linecap="butt" stroke-linejoin="round" stroke-dasharray="71.2 26.7" stroke-dashoffset="0"/>
<polyline points="433.2,1671 622.7,1944.6 812.2,1909.6 1001.7,1919.5 1191.2,1941 1380.6,1963 1570.1,2042.5 1759.6,2294 1949,2024.6" fill="none" stroke="#000" stroke-width="7.8" stroke-linecap="butt" stroke-linejoin="round"/>
<text transform="translate(1177.5 1604.5) scale(1.0 1)" font-size="50" fill="#111" text-anchor="middle" font-weight="normal" font-family='"Liberation Serif", "DejaVu Serif", serif' stroke="#111" stroke-width="0.7">*</text>
<text transform="translate(1204.5 1604.5) scale(1.0 1)" font-size="50" fill="#111" text-anchor="middle" font-weight="normal" font-family='"Liberation Serif", "DejaVu Serif", serif' stroke="#111" stroke-width="0.7">*</text>
<text transform="translate(1191.3 1666) scale(1.0 1)" font-size="50" fill="#111" text-anchor="middle" font-weight="normal" font-family='"Liberation Serif", "DejaVu Serif", serif' stroke="#111" stroke-width="0.7">*</text>
<text transform="translate(1546.5 1830.2) scale(1.0 1)" font-size="50" fill="#111" text-anchor="middle" font-weight="normal" font-family='"Liberation Serif", "DejaVu Serif", serif' stroke="#111" stroke-width="0.7">*</text>
<text transform="translate(1573.5 1830.2) scale(1.0 1)" font-size="50" fill="#111" text-anchor="middle" font-weight="normal" font-family='"Liberation Serif", "DejaVu Serif", serif' stroke="#111" stroke-width="0.7">*</text>
<text transform="translate(1600.5 1830.2) scale(1.0 1)" font-size="50" fill="#111" text-anchor="middle" font-weight="normal" font-family='"Liberation Serif", "DejaVu Serif", serif' stroke="#111" stroke-width="0.7">*</text>
<text transform="translate(1737.2 2107.7) scale(1.0 1)" font-size="50" fill="#111" text-anchor="middle" font-weight="normal" font-family='"Liberation Serif", "DejaVu Serif", serif' stroke="#111" stroke-width="0.7">*</text>
<text transform="translate(1764.2 2107.7) scale(1.0 1)" font-size="50" fill="#111" text-anchor="middle" font-weight="normal" font-family='"Liberation Serif", "DejaVu Serif", serif' stroke="#111" stroke-width="0.7">*</text>
<text transform="translate(1791.2 2107.7) scale(1.0 1)" font-size="50" fill="#111" text-anchor="middle" font-weight="normal" font-family='"Liberation Serif", "DejaVu Serif", serif' stroke="#111" stroke-width="0.7">*</text>
<text transform="translate(1918.9 1986.5) scale(1.0 1)" font-size="50" fill="#111" text-anchor="middle" font-weight="normal" font-family='"Liberation Serif", "DejaVu Serif", serif' stroke="#111" stroke-width="0.7">*</text>
<text transform="translate(1945.9 1986.5) scale(1.0 1)" font-size="50" fill="#111" text-anchor="middle" font-weight="normal" font-family='"Liberation Serif", "DejaVu Serif", serif' stroke="#111" stroke-width="0.7">*</text>
<text transform="translate(1972.9 1986.5) scale(1.0 1)" font-size="50" fill="#111" text-anchor="middle" font-weight="normal" font-family='"Liberation Serif", "DejaVu Serif", serif' stroke="#111" stroke-width="0.7">*</text>
<line x1="106.5" y1="2472.3" x2="261.3" y2="2472.3" stroke="#000" stroke-width="8.2" stroke-linecap="butt"/>
<text transform="translate(274 2483.2) scale(1.055 1)" font-size="46" fill="#595959" text-anchor="start" font-weight="normal" font-family='"Liberation Sans", Arial, sans-serif' >Control</text>
<line x1="106.5" y1="2531.8" x2="261.3" y2="2531.8" stroke="#000" stroke-width="8.2" stroke-linecap="butt" stroke-dasharray="71.2 26.7 8.9 26.7"/>
<text transform="translate(274 2542.7) scale(1.055 1)" font-size="46" fill="#595959" text-anchor="start" font-weight="normal" font-family='"Liberation Sans", Arial, sans-serif' >FYM</text>
<line x1="106.5" y1="2591.8" x2="261.3" y2="2591.8" stroke="#000" stroke-width="8.2" stroke-linecap="butt" stroke-dasharray="26.7 8.9"/>
<text transform="translate(274 2603.2) scale(1.055 1)" font-size="46" fill="#595959" text-anchor="start" font-weight="normal" font-family='"Liberation Sans", Arial, sans-serif' >MSW</text>
<line x1="106.5" y1="2648.7" x2="261.3" y2="2648.7" stroke="#000" stroke-width="8.2" stroke-linecap="butt" stroke-dasharray="71.2 26.7 8.9 26.7 8.9 26.7"/>
<text transform="translate(274 2662.6) scale(1.055 1)" font-size="46" fill="#595959" text-anchor="start" font-weight="normal" font-family='"Liberation Sans", Arial, sans-serif' >Ash+N</text>
<line x1="106.5" y1="2708.1" x2="261.3" y2="2708.1" stroke="#000" stroke-width="8.2" stroke-linecap="butt" stroke-dasharray="71.2 26.7"/>
<text transform="translate(274 2722) scale(1.055 1)" font-size="46" fill="#595959" text-anchor="start" font-weight="normal" font-family='"Liberation Sans", Arial, sans-serif' >High N</text>
<text transform="translate(1187.3 2498.2) scale(1.055 1)" font-size="46.5" fill="#000" text-anchor="middle" font-weight="bold" font-family='"Liberation Sans", Arial, sans-serif' >b</text>
<text transform="translate(1187.3 2554) scale(1.055 1)" font-size="46.5" fill="#000" text-anchor="middle" font-weight="bold" font-family='"Liberation Sans", Arial, sans-serif' >b</text>
<text transform="translate(1187.3 2611) scale(1.055 1)" font-size="46.5" fill="#000" text-anchor="middle" font-weight="bold" font-family='"Liberation Sans", Arial, sans-serif' >b</text>
<text transform="translate(1187.3 2667.8) scale(1.055 1)" font-size="46.5" fill="#000" text-anchor="middle" font-weight="bold" font-family='"Liberation Sans", Arial, sans-serif' >b</text>
<text transform="translate(1187.3 2724.7) scale(1.055 1)" font-size="46.5" fill="#000" text-anchor="middle" font-weight="bold" font-family='"Liberation Sans", Arial, sans-serif' >a</text>
<text transform="translate(1566 2491) scale(1.055 1)" font-size="46.5" fill="#000" text-anchor="middle" font-weight="bold" font-family='"Liberation Sans", Arial, sans-serif' >b</text>
<text transform="translate(1566 2548.5) scale(1.055 1)" font-size="46.5" fill="#000" text-anchor="middle" font-weight="bold" font-family='"Liberation Sans", Arial, sans-serif' >b</text>
<text transform="translate(1566 2606) scale(1.055 1)" font-size="46.5" fill="#000" text-anchor="middle" font-weight="bold" font-family='"Liberation Sans", Arial, sans-serif' >ab</text>
<text transform="translate(1566 2662) scale(1.055 1)" font-size="46.5" fill="#000" text-anchor="middle" font-weight="bold" font-family='"Liberation Sans", Arial, sans-serif' >b</text>
<text transform="translate(1566 2718.4) scale(1.055 1)" font-size="46.5" fill="#000" text-anchor="middle" font-weight="bold" font-family='"Liberation Sans", Arial, sans-serif' >a</text>
<text transform="translate(1760.6 2512.9) scale(1.055 1)" font-size="46.5" fill="#000" text-anchor="middle" font-weight="bold" font-family='"Liberation Sans", Arial, sans-serif' >c</text>
<text transform="translate(1760.6 2567.7) scale(1.055 1)" font-size="46.5" fill="#000" text-anchor="middle" font-weight="bold" font-family='"Liberation Sans", Arial, sans-serif' >b</text>
<text transform="translate(1760.6 2625.2) scale(1.055 1)" font-size="46.5" fill="#000" text-anchor="middle" font-weight="bold" font-family='"Liberation Sans", Arial, sans-serif' >a</text>
<text transform="translate(1760.6 2682.8) scale(1.055 1)" font-size="46.5" fill="#000" text-anchor="middle" font-weight="bold" font-family='"Liberation Sans", Arial, sans-serif' >a</text>
<text transform="translate(1760.6 2739.2) scale(1.055 1)" font-size="46.5" fill="#000" text-anchor="middle" font-weight="bold" font-family='"Liberation Sans", Arial, sans-serif' >bc</text>
<text transform="translate(1944.2 2488.2) scale(1.055 1)" font-size="46.5" fill="#000" text-anchor="middle" font-weight="bold" font-family='"Liberation Sans", Arial, sans-serif' >a</text>
<text transform="translate(1944.2 2545.8) scale(1.055 1)" font-size="46.5" fill="#000" text-anchor="middle" font-weight="bold" font-family='"Liberation Sans", Arial, sans-serif' >a</text>
<text transform="translate(1944.2 2603.3) scale(1.055 1)" font-size="46.5" fill="#000" text-anchor="middle" font-weight="bold" font-family='"Liberation Sans", Arial, sans-serif' >a</text>
<text transform="translate(1944.2 2659.8) scale(1.055 1)" font-size="46.5" fill="#000" text-anchor="middle" font-weight="bold" font-family='"Liberation Sans", Arial, sans-serif' >a</text>
<text transform="translate(1944.2 2716.8) scale(1.055 1)" font-size="46.5" fill="#000" text-anchor="middle" font-weight="bold" font-family='"Liberation Sans", Arial, sans-serif' >b</text>
<text transform="translate(2078 1488) scale(0.92 1)" font-size="60" fill="#000" text-anchor="middle" font-weight="bold" font-family='"Liberation Sans", Arial, sans-serif' >b</text>
</g>
<g>
<line x1="725" y1="2804.6" x2="725" y2="3826.5" stroke="#555" stroke-width="3.9" stroke-dasharray="13 3.4"/>
<line x1="1123.7" y1="2822" x2="1123.7" y2="3845" stroke="#1c1c1c" stroke-width="3.9" stroke-dasharray="13 3.4"/>
<line x1="1501.8" y1="2804.6" x2="1501.8" y2="3827" stroke="#1c1c1c" stroke-width="3.9" stroke-dasharray="13 3.4"/>
<line x1="662.3" y1="3292" x2="662.3" y2="3338" stroke="#111" stroke-width="3.9" stroke-dasharray="12.5 4"/>
<line x1="1060.8" y1="3310.5" x2="1060.8" y2="3355" stroke="#111" stroke-width="3.9" stroke-dasharray="12.5 4"/>
<line x1="1439.4" y1="3291.7" x2="1439.4" y2="3339.7" stroke="#111" stroke-width="3.9" stroke-dasharray="12.5 4"/>
<path d="M338.8 2834.5 V3689.7 H2037.5" fill="none" stroke="#000" stroke-width="6" stroke-linecap="butt" stroke-linejoin="miter"/>
<line x1="324.3" y1="2837.5" x2="338.8" y2="2837.5" stroke="#000" stroke-width="6"/>
<text transform="translate(298.5 2851) scale(1.055 1)" font-size="46" fill="#595959" text-anchor="end" font-weight="normal" font-family='"Liberation Sans", Arial, sans-serif' >130</text>
<line x1="324.3" y1="2944" x2="338.8" y2="2944" stroke="#000" stroke-width="6"/>
<text transform="translate(298.5 2957.5) scale(1.055 1)" font-size="46" fill="#595959" text-anchor="end" font-weight="normal" font-family='"Liberation Sans", Arial, sans-serif' >120</text>
<line x1="324.3" y1="3050.6" x2="338.8" y2="3050.6" stroke="#000" stroke-width="6"/>
<text transform="translate(298.5 3064.1) scale(1.055 1)" font-size="46" fill="#595959" text-anchor="end" font-weight="normal" font-family='"Liberation Sans", Arial, sans-serif' >110</text>
<line x1="324.3" y1="3157.1" x2="338.8" y2="3157.1" stroke="#000" stroke-width="6"/>
<text transform="translate(298.5 3170.6) scale(1.055 1)" font-size="46" fill="#595959" text-anchor="end" font-weight="normal" font-family='"Liberation Sans", Arial, sans-serif' >100</text>
<line x1="324.3" y1="3263.6" x2="338.8" y2="3263.6" stroke="#000" stroke-width="6"/>
<text transform="translate(298.5 3277.1) scale(1.055 1)" font-size="46" fill="#595959" text-anchor="end" font-weight="normal" font-family='"Liberation Sans", Arial, sans-serif' >90</text>
<line x1="324.3" y1="3370.1" x2="338.8" y2="3370.1" stroke="#000" stroke-width="6"/>
<text transform="translate(298.5 3383.6) scale(1.055 1)" font-size="46" fill="#595959" text-anchor="end" font-weight="normal" font-family='"Liberation Sans", Arial, sans-serif' >80</text>
<line x1="324.3" y1="3476.6" x2="338.8" y2="3476.6" stroke="#000" stroke-width="6"/>
<text transform="translate(298.5 3490.1) scale(1.055 1)" font-size="46" fill="#595959" text-anchor="end" font-weight="normal" font-family='"Liberation Sans", Arial, sans-serif' >70</text>
<line x1="324.3" y1="3583.2" x2="338.8" y2="3583.2" stroke="#000" stroke-width="6"/>
<text transform="translate(298.5 3596.7) scale(1.055 1)" font-size="46" fill="#595959" text-anchor="end" font-weight="normal" font-family='"Liberation Sans", Arial, sans-serif' >60</text>
<line x1="324.3" y1="3689.7" x2="338.8" y2="3689.7" stroke="#000" stroke-width="6"/>
<text transform="translate(298.5 3703.2) scale(1.055 1)" font-size="46" fill="#595959" text-anchor="end" font-weight="normal" font-family='"Liberation Sans", Arial, sans-serif' >50</text>
<text transform="translate(173 3431) scale(1.055 1) rotate(-90)" font-size="48" fill="#595959" font-family='"Liberation Sans", Arial, sans-serif'>A/gs (µmol mol<tspan dy="-17" font-size="30">-1</tspan><tspan dy="17">)</tspan></text>
<text transform="translate(425.3 3760.4) scale(1.055 1)" font-size="46" fill="#595959" text-anchor="middle" font-weight="normal" font-family='"Liberation Sans", Arial, sans-serif' >July</text>
<text transform="translate(614.3 3760.4) scale(1.055 1)" font-size="46" fill="#595959" text-anchor="middle" font-weight="normal" font-family='"Liberation Sans", Arial, sans-serif' >Ago</text>
<text transform="translate(809.9 3760.4) scale(1.055 1)" font-size="46" fill="#595959" text-anchor="middle" font-weight="normal" font-family='"Liberation Sans", Arial, sans-serif' >July</text>
<text transform="translate(999 3760.4) scale(1.055 1)" font-size="46" fill="#595959" text-anchor="middle" font-weight="normal" font-family='"Liberation Sans", Arial, sans-serif' >Ago</text>
<text transform="translate(1188 3760.4) scale(1.055 1)" font-size="46" fill="#595959" text-anchor="middle" font-weight="normal" font-family='"Liberation Sans", Arial, sans-serif' >July</text>
<text transform="translate(1376.6 3760.4) scale(1.055 1)" font-size="46" fill="#595959" text-anchor="middle" font-weight="normal" font-family='"Liberation Sans", Arial, sans-serif' >Ago</text>
<text transform="translate(1560 3760.4) scale(1.055 1)" font-size="46" fill="#595959" text-anchor="middle" font-weight="normal" font-family='"Liberation Sans", Arial, sans-serif' >July</text>
<text transform="translate(1755 3760.4) scale(1.055 1)" font-size="46" fill="#595959" text-anchor="middle" font-weight="normal" font-family='"Liberation Sans", Arial, sans-serif' >Ago</text>
<text transform="translate(1945 3760.4) scale(1.055 1)" font-size="46" fill="#595959" text-anchor="middle" font-weight="normal" font-family='"Liberation Sans", Arial, sans-serif' >Sep</text>
<text transform="translate(523.3 3831) scale(1.055 1)" font-size="45" fill="#000" text-anchor="middle" font-weight="bold" font-family='"Liberation Sans", Arial, sans-serif' >2017</text>
<text transform="translate(905 3838.6) scale(1.055 1)" font-size="45" fill="#000" text-anchor="middle" font-weight="bold" font-family='"Liberation Sans", Arial, sans-serif' >2018</text>
<text transform="translate(1285.4 3827.6) scale(1.055 1)" font-size="45" fill="#000" text-anchor="middle" font-weight="bold" font-family='"Liberation Sans", Arial, sans-serif' >2019</text>
<text transform="translate(1759.8 3824.3) scale(1.055 1)" font-size="45" fill="#000" text-anchor="middle" font-weight="bold" font-family='"Liberation Sans", Arial, sans-serif' >2020</text>
<line x1="432.3" y1="3289.2" x2="432.3" y2="3544.5" stroke="#595959" stroke-width="5.4"/>
<rect x="419.3" y="3286.5" width="26" height="5.4" fill="#595959"/>
<rect x="419.3" y="3400.2" width="26" height="5.4" fill="#595959"/>
<rect x="419.3" y="3411.3" width="26" height="5.4" fill="#595959"/>
<rect x="419.3" y="3468.5" width="26" height="5.4" fill="#595959"/>
<rect x="419.3" y="3510.5" width="26" height="9" fill="#595959"/>
<rect x="419.3" y="3529.3" width="26" height="5.4" fill="#595959"/>
<rect x="419.3" y="3538" width="26" height="9" fill="#595959"/>
<line x1="621.4" y1="3468.6" x2="621.4" y2="3655" stroke="#595959" stroke-width="5.4"/>
<rect x="608.4" y="3465.9" width="26" height="5.4" fill="#595959"/>
<rect x="608.4" y="3487.3" width="26" height="5.4" fill="#595959"/>
<rect x="608.4" y="3525.9" width="26" height="16.6" fill="#595959"/>
<rect x="608.4" y="3556.3" width="26" height="5.4" fill="#595959"/>
<rect x="608.4" y="3582.3" width="26" height="5.4" fill="#595959"/>
<rect x="608.4" y="3652.3" width="26" height="5.4" fill="#595959"/>
<line x1="810.2" y1="2922.9" x2="810.2" y2="3288.5" stroke="#595959" stroke-width="5.4"/>
<rect x="797.2" y="2920.2" width="26" height="5.4" fill="#595959"/>
<rect x="797.2" y="2979.3" width="26" height="5.4" fill="#595959"/>
<rect x="797.2" y="3118.9" width="26" height="5.4" fill="#595959"/>
<rect x="797.2" y="3136.4" width="26" height="10.3" fill="#595959"/>
<rect x="797.2" y="3155.8" width="26" height="5.4" fill="#595959"/>
<rect x="797.2" y="3215.3" width="26" height="5.4" fill="#595959"/>
<rect x="797.2" y="3226.3" width="26" height="5.4" fill="#595959"/>
<rect x="797.2" y="3280.8" width="26" height="10.4" fill="#595959"/>
<line x1="999.7" y1="3229" x2="999.7" y2="3558.3" stroke="#595959" stroke-width="5.4"/>
<rect x="986.7" y="3226.3" width="26" height="5.4" fill="#595959"/>
<rect x="986.7" y="3264" width="26" height="5.4" fill="#595959"/>
<rect x="986.7" y="3339.8" width="26" height="5.4" fill="#595959"/>
<rect x="986.7" y="3348" width="26" height="5.4" fill="#595959"/>
<rect x="986.7" y="3382.3" width="26" height="5.4" fill="#595959"/>
<rect x="986.7" y="3442.5" width="26" height="9" fill="#595959"/>
<rect x="986.7" y="3519.8" width="26" height="5.4" fill="#595959"/>
<rect x="986.7" y="3526.8" width="26" height="5.4" fill="#595959"/>
<rect x="986.7" y="3555.6" width="26" height="5.4" fill="#595959"/>
<line x1="1188" y1="3284" x2="1188" y2="3417.3" stroke="#595959" stroke-width="5.4"/>
<line x1="1188" y1="3476" x2="1188" y2="3519.6" stroke="#595959" stroke-width="5.4"/>
<rect x="1175" y="3281.3" width="26" height="5.4" fill="#595959"/>
<rect x="1175" y="3304.5" width="26" height="5.4" fill="#595959"/>
<rect x="1175" y="3313" width="26" height="5.4" fill="#595959"/>
<rect x="1175" y="3352" width="26" height="9" fill="#595959"/>
<rect x="1175" y="3372.9" width="26" height="5.4" fill="#595959"/>
<rect x="1175" y="3414.6" width="26" height="5.4" fill="#595959"/>
<rect x="1175" y="3473.3" width="26" height="5.4" fill="#595959"/>
<rect x="1175" y="3516.9" width="26" height="5.4" fill="#595959"/>
<line x1="1377.4" y1="3226" x2="1377.4" y2="3381.8" stroke="#595959" stroke-width="5.4"/>
<rect x="1364.4" y="3223.3" width="26" height="5.4" fill="#595959"/>
<rect x="1364.4" y="3280.9" width="26" height="5.4" fill="#595959"/>
<rect x="1364.4" y="3305.6" width="26" height="5.4" fill="#595959"/>
<rect x="1364.4" y="3315" width="26" height="9" fill="#595959"/>
<rect x="1364.4" y="3330.5" width="26" height="15" fill="#595959"/>
<rect x="1364.4" y="3364.3" width="26" height="5.4" fill="#595959"/>
<rect x="1364.4" y="3379.1" width="26" height="5.4" fill="#595959"/>
<line x1="1566" y1="3041.9" x2="1566" y2="3273" stroke="#595959" stroke-width="5.4"/>
<rect x="1553" y="3039.2" width="26" height="5.4" fill="#595959"/>
<rect x="1553" y="3135.6" width="26" height="5.4" fill="#595959"/>
<rect x="1553" y="3146.7" width="26" height="5.4" fill="#595959"/>
<rect x="1553" y="3192.3" width="26" height="5.4" fill="#595959"/>
<rect x="1553" y="3226.5" width="26" height="8.5" fill="#595959"/>
<rect x="1553" y="3264" width="26" height="11.5" fill="#595959"/>
<rect x="1553" y="3337.5" width="26" height="8" fill="#595959"/>
<line x1="1755" y1="2985.7" x2="1755" y2="3151" stroke="#595959" stroke-width="5.4"/>
<line x1="1755" y1="3193.6" x2="1755" y2="3237.2" stroke="#595959" stroke-width="5.4"/>
<rect x="1742" y="2983" width="26" height="5.4" fill="#595959"/>
<rect x="1742" y="3013.6" width="26" height="5.4" fill="#595959"/>
<rect x="1742" y="3030.3" width="26" height="5.4" fill="#595959"/>
<rect x="1742" y="3061.3" width="26" height="5.4" fill="#595959"/>
<rect x="1742" y="3078.3" width="26" height="5.4" fill="#595959"/>
<rect x="1742" y="3087.3" width="26" height="5.4" fill="#595959"/>
<rect x="1742" y="3098.3" width="26" height="5.4" fill="#595959"/>
<rect x="1742" y="3148.3" width="26" height="5.4" fill="#595959"/>
<rect x="1742" y="3190.9" width="26" height="5.4" fill="#595959"/>
<rect x="1742" y="3234.5" width="26" height="5.4" fill="#595959"/>
<line x1="1944.4" y1="3021.9" x2="1944.4" y2="3058.8" stroke="#595959" stroke-width="5.4"/>
<line x1="1944.4" y1="3101" x2="1944.4" y2="3215" stroke="#595959" stroke-width="5.4"/>
<rect x="1931.4" y="3019.2" width="26" height="5.4" fill="#595959"/>
<rect x="1931.4" y="3056.1" width="26" height="5.4" fill="#595959"/>
<rect x="1931.4" y="3099.4" width="26" height="14.8" fill="#595959"/>
<rect x="1931.4" y="3155.8" width="26" height="5.4" fill="#595959"/>
<rect x="1931.4" y="3166.1" width="26" height="5.4" fill="#595959"/>
<rect x="1931.4" y="3212.3" width="26" height="5.4" fill="#595959"/>
<polyline points="432.9,3525.9 621.8,3601.6 810.7,3221.7 999.6,3318 1188.5,3336.8 1377.4,3350 1566.3,3341.6 1755.2,3125.3 1944.1,3136.3" fill="none" stroke="#000" stroke-width="7.8" stroke-linecap="butt" stroke-linejoin="round" stroke-dasharray="26.7 8.9" stroke-dashoffset="0"/>
<polyline points="432.9,3478 621.8,3555 810.7,3184.8" fill="none" stroke="#000" stroke-width="7.8" stroke-linecap="butt" stroke-linejoin="round" stroke-dasharray="71.2 26.7 8.9 26.7" stroke-dashoffset="0"/>
<polyline points="810.7,3184.8 999.6,3542 1188.5,3332 1377.4,3321 1566.3,3138.5 1755.2,3046 1944.1,3137" fill="none" stroke="#000" stroke-width="7.8" stroke-linecap="butt" stroke-linejoin="round" stroke-dasharray="71.2 26.7 8.9 26.7" stroke-dashoffset="115.2"/>
<polyline points="432.9,3498 621.8,3500 810.7,3053 999.6,3394 1188.5,3329 1377.4,3273 1566.3,3212 1755.2,3215.7 1944.1,3138" fill="none" stroke="#000" stroke-width="7.8" stroke-linecap="butt" stroke-linejoin="round" stroke-dasharray="71.2 26.7 8.9 26.7 8.9 26.7" stroke-dashoffset="0"/>
<polyline points="432.9,3343.9 621.8,3509 810.7,3051.4" fill="none" stroke="#000" stroke-width="7.8" stroke-linecap="butt" stroke-linejoin="round" stroke-dasharray="71.2 26.7" stroke-dashoffset="0"/>
<polyline points="810.7,3051.4 999.6,3291 1188.5,3493.7 1377.4,3312 1566.3,3253 1755.2,3033 1944.1,3040.3" fill="none" stroke="#000" stroke-width="7.8" stroke-linecap="butt" stroke-linejoin="round" stroke-dasharray="71.2 26.7" stroke-dashoffset="88.6"/>
<polyline points="432.9,3507.4 621.8,3555.4 810.7,3258.6 999.6,3483 1188.5,3384.8 1377.4,3349 1566.3,3170 1755.2,3038.5 1944.1,3191.7" fill="none" stroke="#000" stroke-width="7.8" stroke-linecap="butt" stroke-linejoin="round"/>
<text transform="translate(990 3192.8) scale(1.0 1)" font-size="50" fill="#111" text-anchor="middle" font-weight="normal" font-family='"Liberation Serif", "DejaVu Serif", serif' stroke="#111" stroke-width="0.7">*</text>
<text transform="translate(1017 3192.8) scale(1.0 1)" font-size="50" fill="#111" text-anchor="middle" font-weight="normal" font-family='"Liberation Serif", "DejaVu Serif", serif' stroke="#111" stroke-width="0.7">*</text>
<text transform="translate(1172.5 3238.7) scale(1.0 1)" font-size="50" fill="#111" text-anchor="middle" font-weight="normal" font-family='"Liberation Serif", "DejaVu Serif", serif' stroke="#111" stroke-width="0.7">*</text>
<text transform="translate(1199.5 3238.7) scale(1.0 1)" font-size="50" fill="#111" text-anchor="middle" font-weight="normal" font-family='"Liberation Serif", "DejaVu Serif", serif' stroke="#111" stroke-width="0.7">*</text>
<text transform="translate(1737.2 2952.4) scale(1.0 1)" font-size="50" fill="#111" text-anchor="middle" font-weight="normal" font-family='"Liberation Serif", "DejaVu Serif", serif' stroke="#111" stroke-width="0.7">*</text>
<text transform="translate(1764.2 2952.4) scale(1.0 1)" font-size="50" fill="#111" text-anchor="middle" font-weight="normal" font-family='"Liberation Serif", "DejaVu Serif", serif' stroke="#111" stroke-width="0.7">*</text>
<text transform="translate(1791.2 2952.4) scale(1.0 1)" font-size="50" fill="#111" text-anchor="middle" font-weight="normal" font-family='"Liberation Serif", "DejaVu Serif", serif' stroke="#111" stroke-width="0.7">*</text>
<text transform="translate(1937 2952.4) scale(1.0 1)" font-size="50" fill="#111" text-anchor="middle" font-weight="normal" font-family='"Liberation Serif", "DejaVu Serif", serif' stroke="#111" stroke-width="0.7">*</text>
<text transform="translate(1964 2952.4) scale(1.0 1)" font-size="50" fill="#111" text-anchor="middle" font-weight="normal" font-family='"Liberation Serif", "DejaVu Serif", serif' stroke="#111" stroke-width="0.7">*</text>
<line x1="92" y1="3881.6" x2="250.8" y2="3881.6" stroke="#000" stroke-width="8.2" stroke-linecap="butt"/>
<text transform="translate(261.5 3893) scale(1.055 1)" font-size="46" fill="#595959" text-anchor="start" font-weight="normal" font-family='"Liberation Sans", Arial, sans-serif' >Control</text>
<line x1="92" y1="3933.4" x2="250.8" y2="3933.4" stroke="#000" stroke-width="8.2" stroke-linecap="butt" stroke-dasharray="71.2 26.7 8.9 26.7"/>
<text transform="translate(261.5 3947.3) scale(1.055 1)" font-size="46" fill="#595959" text-anchor="start" font-weight="normal" font-family='"Liberation Sans", Arial, sans-serif' >FYM</text>
<line x1="92" y1="3984.5" x2="250.8" y2="3984.5" stroke="#000" stroke-width="8.2" stroke-linecap="butt" stroke-dasharray="26.7 8.9"/>
<text transform="translate(261.5 3998) scale(1.055 1)" font-size="46" fill="#595959" text-anchor="start" font-weight="normal" font-family='"Liberation Sans", Arial, sans-serif' >MSW</text>
<line x1="92" y1="4035.7" x2="250.8" y2="4035.7" stroke="#000" stroke-width="8.2" stroke-linecap="butt" stroke-dasharray="71.2 26.7 8.9 26.7 8.9 26.7"/>
<text transform="translate(261.5 4049.7) scale(1.055 1)" font-size="46" fill="#595959" text-anchor="start" font-weight="normal" font-family='"Liberation Sans", Arial, sans-serif' >Ash+N</text>
<line x1="92" y1="4089.5" x2="250.8" y2="4089.5" stroke="#000" stroke-width="8.2" stroke-linecap="butt" stroke-dasharray="71.2 26.7"/>
<text transform="translate(261.5 4101.4) scale(1.055 1)" font-size="46" fill="#595959" text-anchor="start" font-weight="normal" font-family='"Liberation Sans", Arial, sans-serif' >High N</text>
<text transform="translate(1003.9 3879.5) scale(1.055 1)" font-size="46.5" fill="#000" text-anchor="middle" font-weight="bold" font-family='"Liberation Sans", Arial, sans-serif' >ab</text>
<text transform="translate(1003.9 3937) scale(1.055 1)" font-size="46.5" fill="#000" text-anchor="middle" font-weight="bold" font-family='"Liberation Sans", Arial, sans-serif' >b</text>
<text transform="translate(1003.9 3994.3) scale(1.055 1)" font-size="46.5" fill="#000" text-anchor="middle" font-weight="bold" font-family='"Liberation Sans", Arial, sans-serif' >a</text>
<text transform="translate(1003.9 4050.6) scale(1.055 1)" font-size="46.5" fill="#000" text-anchor="middle" font-weight="bold" font-family='"Liberation Sans", Arial, sans-serif' >ab</text>
<text transform="translate(1003.9 4108) scale(1.055 1)" font-size="46.5" fill="#000" text-anchor="middle" font-weight="bold" font-family='"Liberation Sans", Arial, sans-serif' >a</text>
<text transform="translate(1188 3879.5) scale(1.055 1)" font-size="46.5" fill="#000" text-anchor="middle" font-weight="bold" font-family='"Liberation Sans", Arial, sans-serif' >ab</text>
<text transform="translate(1188 3937) scale(1.055 1)" font-size="46.5" fill="#000" text-anchor="middle" font-weight="bold" font-family='"Liberation Sans", Arial, sans-serif' >a</text>
<text transform="translate(1188 3994.3) scale(1.055 1)" font-size="46.5" fill="#000" text-anchor="middle" font-weight="bold" font-family='"Liberation Sans", Arial, sans-serif' >a</text>
<text transform="translate(1188 4050.6) scale(1.055 1)" font-size="46.5" fill="#000" text-anchor="middle" font-weight="bold" font-family='"Liberation Sans", Arial, sans-serif' >a</text>
<text transform="translate(1188 4108) scale(1.055 1)" font-size="46.5" fill="#000" text-anchor="middle" font-weight="bold" font-family='"Liberation Sans", Arial, sans-serif' >b</text>
<text transform="translate(1756.7 3879) scale(1.055 1)" font-size="46.5" fill="#000" text-anchor="middle" font-weight="bold" font-family='"Liberation Sans", Arial, sans-serif' >a</text>
<text transform="translate(1756.7 3936) scale(1.055 1)" font-size="46.5" fill="#000" text-anchor="middle" font-weight="bold" font-family='"Liberation Sans", Arial, sans-serif' >a</text>
<text transform="translate(1756.7 3993.6) scale(1.055 1)" font-size="46.5" fill="#000" text-anchor="middle" font-weight="bold" font-family='"Liberation Sans", Arial, sans-serif' >ab</text>
<text transform="translate(1756.7 4050) scale(1.055 1)" font-size="46.5" fill="#000" text-anchor="middle" font-weight="bold" font-family='"Liberation Sans", Arial, sans-serif' >b</text>
<text transform="translate(1756.7 4107.6) scale(1.055 1)" font-size="46.5" fill="#000" text-anchor="middle" font-weight="bold" font-family='"Liberation Sans", Arial, sans-serif' >a</text>
<text transform="translate(1956.8 3879) scale(1.055 1)" font-size="46.5" fill="#000" text-anchor="middle" font-weight="bold" font-family='"Liberation Sans", Arial, sans-serif' >b</text>
<text transform="translate(1956.8 3936) scale(1.055 1)" font-size="46.5" fill="#000" text-anchor="middle" font-weight="bold" font-family='"Liberation Sans", Arial, sans-serif' >ab</text>
<text transform="translate(1956.8 3993.6) scale(1.055 1)" font-size="46.5" fill="#000" text-anchor="middle" font-weight="bold" font-family='"Liberation Sans", Arial, sans-serif' >ab</text>
<text transform="translate(1956.8 4050) scale(1.055 1)" font-size="46.5" fill="#000" text-anchor="middle" font-weight="bold" font-family='"Liberation Sans", Arial, sans-serif' >ab</text>
<text transform="translate(1956.8 4107.6) scale(1.055 1)" font-size="46.5" fill="#000" text-anchor="middle" font-weight="bold" font-family='"Liberation Sans", Arial, sans-serif' >a</text>
<text transform="translate(2074.5 2811.8) scale(0.92 1)" font-size="60" fill="#000" text-anchor="middle" font-weight="bold" font-family='"Liberation Sans", Arial, sans-serif' >c</text>
</g>
<line x1="23" y1="22" x2="2151.8" y2="22" stroke="#000" stroke-width="5.8" stroke-linecap="square"/>
<line x1="23" y1="22" x2="23" y2="4117" stroke="#000" stroke-width="6" stroke-linecap="square"/>
<line x1="2151.8" y1="22" x2="2151.8" y2="1397" stroke="#000" stroke-width="5.5" stroke-linecap="square"/>
<line x1="23" y1="1397" x2="2155" y2="1397" stroke="#000" stroke-width="5.5" stroke-linecap="square"/>
<line x1="2155" y1="1397" x2="2155" y2="2740.7" stroke="#000" stroke-width="5.7" stroke-linecap="square"/>
<line x1="23" y1="2740.7" x2="2155" y2="2740.7" stroke="#000" stroke-width="5.5" stroke-linecap="square"/>
<line x1="2152" y1="2740.7" x2="2152" y2="4117" stroke="#000" stroke-width="6" stroke-linecap="square"/>
<line x1="23" y1="4117" x2="2152" y2="4117" stroke="#000" stroke-width="6.5" stroke-linecap="square"/>
</g>
</svg></body></html>
